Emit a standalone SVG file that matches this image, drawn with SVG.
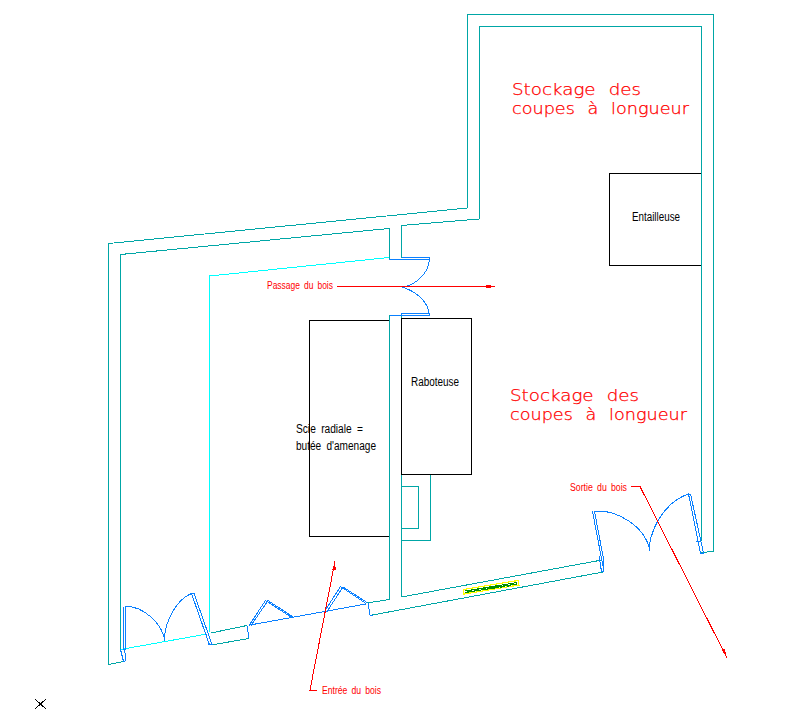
<svg xmlns="http://www.w3.org/2000/svg" width="808" height="709" viewBox="0 0 808 709">
<style>
path,rect{shape-rendering:crispEdges}
.w{fill:none;stroke:#00a6a6;stroke-width:1}
.c{fill:none;stroke:#00ffff;stroke-width:1}
.b{fill:none;stroke:#0a80ff;stroke-width:1}
.k{fill:none;stroke:#000;stroke-width:1}
.r{fill:none;stroke:#f00;stroke-width:1}
.h{fill:#f00;stroke:none}
.s{font-family:"Liberation Sans",sans-serif;font-size:12px;fill:#000}
.n{font-family:"Liberation Sans",sans-serif;font-size:10px;fill:#f00}
.t{font-family:"DejaVu Sans",sans-serif;font-weight:200;font-size:15px;fill:#f00;stroke:#f00;stroke-width:.25}
</style>
<rect width="808" height="709" fill="#fff"/>
<g id="walls">
<path class="w" d="M123.500 661.500L108.500 664.500V243.500L467.500 208V14.500H713.500V551L701.500 553"/>
<path class="w" d="M120.500 649V254.500L389 228.500V259M401.500 258V225.500L479.500 219V26.500H701.500V541"/>
<path class="w" d="M389.500 315V599.500L367 603M401.500 314V597L602 560M372.500 615L603 572M401.500 540.500H430.500V475"/>
<rect class="w" x="401.500" y="486.500" width="17" height="42"/>
<path class="w" d="M211 633L247 625.500M211 645L249 638.500"/>
<path class="c" d="M389 257.500L209.500 276V632M120.500 649.500L207 634"/>
</g>
<g id="doors">
<path class="b" d="M389 259H429.500V262M401.500 257.500H429.500V259M389.500 315.500H429.500V313.500H401.500V315.500"/>
<path class="b" d="M429 262C428 272 418 283 406 286.500M429 313C428 303 418 292 402 287"/>
<path class="b" d="M120.500 649.500L123.500 661.500L126 660.500L124.500 649M123.500 650V606.500M125.500 650V606.500H127C142 606.500 162 622 165 641"/>
<path class="b" d="M164 640C166 617 178 599 191.500 593.500L209.500 645L212 644.500L194 593.500H191.500M206 634L209 645"/>
<path class="b" d="M247 626L249 638M249 625.500L265.500 600.500L292.500 618M251 625.500L268 600.500L293 617M250 625L366 604"/>
<path class="b" d="M324.500 611.500L340.500 586.500L366 603.500M327 611.500L343 587L367 602.500M368 603L370 615H372.500"/>
<path class="b" d="M592.500 511.500L604 571.500H601.500L599 556M594.500 511.500L604 561.500L603 572M594.500 511.500C615 509 645 525 650 551"/>
<path class="b" d="M649 547C653 520 670 500 688.500 494L700.500 553H703.500L690.500 494H688.500M696 541L700 541"/>
</g>
<g id="entailleuse">
<path class="k" d="M701 173.500H609.500V265.500H701"/>
<text class="s" x="632" y="221" textLength="48" lengthAdjust="spacingAndGlyphs">Entailleuse</text>
</g>
<g id="raboteuse">
<rect class="k" x="401.500" y="318.500" width="70" height="156"/>
<text class="s" x="411" y="386" textLength="48" lengthAdjust="spacingAndGlyphs">Raboteuse</text>
</g>
<g id="scie">
<path class="k" d="M389 320.500H309.500V536.500H389"/>
<text class="s" x="296" y="433" textLength="67" lengthAdjust="spacingAndGlyphs" style="word-spacing:3px">Scie radiale =</text>
<text class="s" x="296" y="450" textLength="80" lengthAdjust="spacingAndGlyphs" style="word-spacing:3px">butée d'amenage</text>
</g>
<g id="radiateur">
<path d="M463.500 589.500L518 580.500L519 585L464 594Z" fill="#fff" stroke="#ffff00" stroke-width="1.200"/>
<path d="M465 591L517 582.500M465.500 592.500L517.500 584M466 592.500L470 590L473 591.500L477 589L480 590.500L484 588L487 589.500L491 587L494 588.500L498 586L501 587.500L505 585L508 586.500L512 584L515 585L517 583" fill="none" stroke="#009000" stroke-width="1"/>
</g>
<g id="connectors">
<path class="r" d="M337 286H495"/>
<rect class="h" x="486" y="284.500" width="5" height="3"/>
<path class="r" d="M317 690H310L335 561"/>
<path class="h" d="M335 561L335.800 570L332.500 569.500Z"/>
<path class="r" d="M631 486.500H640L727 658"/>
<path class="h" d="M727 658L721.500 650L724.500 648.500Z"/>
</g>
<g id="labels">
<text class="t" x="512" y="95" textLength="129" lengthAdjust="spacingAndGlyphs" style="word-spacing:6px">Stockage des</text>
<text class="t" x="512" y="114" textLength="177" lengthAdjust="spacingAndGlyphs" style="word-spacing:6px">coupes à longueur</text>
<text class="t" x="510" y="401" textLength="129" lengthAdjust="spacingAndGlyphs" style="word-spacing:6px">Stockage des</text>
<text class="t" x="510" y="419.500" textLength="177" lengthAdjust="spacingAndGlyphs" style="word-spacing:6px">coupes à longueur</text>
<text class="n" x="267" y="289" textLength="66" lengthAdjust="spacingAndGlyphs" style="word-spacing:2px">Passage du bois</text>
<text class="n" x="570" y="491" textLength="57" lengthAdjust="spacingAndGlyphs" style="word-spacing:2px">Sortie du bois</text>
<text class="n" x="322" y="694" textLength="59" lengthAdjust="spacingAndGlyphs" style="word-spacing:2px">Entrée du bois</text>
</g>
<path id="ucs" class="k" d="M35 699L46 709M46 699L35 709"/>
</svg>
